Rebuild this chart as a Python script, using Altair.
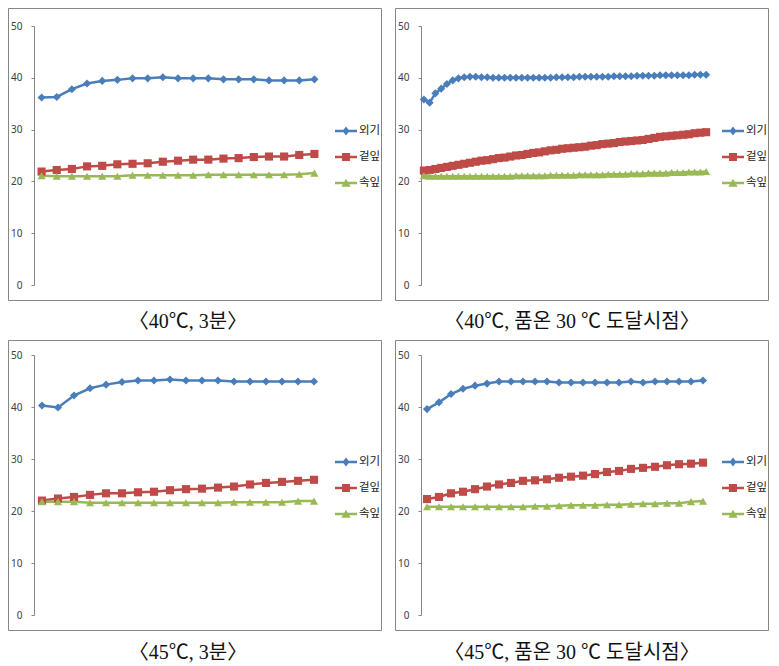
import altair as alt
import pandas as pd

names = ['외기', '겉잎', '속잎']
colors = ['#4A7EBB', '#BE4B48', '#98B954']

captions = ['〈40℃, 3분〉', '〈40℃, 품온 30 ℃ 도달시점〉',
            '〈45℃, 3분〉', '〈45℃, 품온 30 ℃ 도달시점〉']

# Panel 1: 40C, 3 min
p1_out = [36.2, 36.3, 37.8, 38.9, 39.4, 39.6, 39.9, 39.9, 40.1, 39.9, 39.9, 39.9, 39.7, 39.7, 39.7, 39.5, 39.5, 39.5, 39.7]
p1_mid = [21.9, 22.2, 22.4, 22.9, 23.0, 23.3, 23.4, 23.5, 23.8, 24.0, 24.2, 24.2, 24.4, 24.5, 24.7, 24.8, 24.8, 25.1, 25.3]
p1_in = [21.1, 21.0, 21.0, 21.0, 21.0, 21.0, 21.2, 21.2, 21.2, 21.2, 21.2, 21.3, 21.3, 21.3, 21.3, 21.3, 21.3, 21.4, 21.6]

# Panel 2: 40C, until 30C reached
p2_out = [35.8, 35.2, 37.0, 37.9, 38.8, 39.5, 39.9, 40.1, 40.2, 40.2, 40.1, 40.1, 40.0, 40.0, 40.0, 40.0, 40.0,
          40.0, 40.0, 40.0, 40.0, 40.0, 40.0, 40.1, 40.1, 40.1, 40.1, 40.2, 40.2, 40.2, 40.2, 40.2, 40.2, 40.3,
          40.3, 40.3, 40.3, 40.4, 40.4, 40.4, 40.4, 40.5, 40.5, 40.5, 40.5, 40.5, 40.5, 40.6, 40.6, 40.6]
p2_mid = [22.1, 22.2, 22.4, 22.6, 22.8, 23.0, 23.2, 23.4, 23.6, 23.8, 24.0, 24.1, 24.3, 24.5, 24.6, 24.8, 25.0,
          25.1, 25.3, 25.5, 25.6, 25.8, 26.0, 26.1, 26.3, 26.4, 26.5, 26.6, 26.7, 26.9, 27.0, 27.2, 27.3, 27.4,
          27.6, 27.7, 27.8, 27.9, 28.0, 28.2, 28.4, 28.6, 28.7, 28.8, 28.9, 29.0, 29.1, 29.3, 29.4, 29.5]
p2_in = [21.1, 21.0, 21.0, 21.0, 21.0, 21.0, 21.0, 21.0, 21.0, 21.0, 21.0, 21.0, 21.0, 21.0, 21.0, 21.0, 21.1,
         21.1, 21.1, 21.1, 21.1, 21.1, 21.2, 21.2, 21.2, 21.2, 21.2, 21.3, 21.3, 21.3, 21.3, 21.3, 21.4, 21.4,
         21.4, 21.4, 21.5, 21.5, 21.5, 21.6, 21.6, 21.6, 21.6, 21.7, 21.7, 21.7, 21.8, 21.8, 21.8, 21.9]

# Panel 3: 45C, 3 min
p3_out = [40.3, 39.9, 42.2, 43.6, 44.3, 44.8, 45.1, 45.1, 45.3, 45.1, 45.1, 45.1, 44.9, 44.9, 44.9, 44.9, 44.9, 44.9]
p3_mid = [22.0, 22.4, 22.7, 23.1, 23.4, 23.4, 23.6, 23.7, 24.0, 24.2, 24.3, 24.5, 24.7, 25.1, 25.4, 25.6, 25.8, 26.0]
p3_in = [21.8, 21.8, 21.8, 21.6, 21.6, 21.6, 21.6, 21.6, 21.6, 21.6, 21.6, 21.6, 21.7, 21.7, 21.7, 21.7, 21.9, 21.9]

# Panel 4: 45C, until 30C reached
p4_out = [39.6, 40.9, 42.5, 43.5, 44.1, 44.5, 44.9, 44.9, 44.9, 44.9, 44.9, 44.7, 44.7, 44.7, 44.7, 44.7, 44.7,
          44.9, 44.7, 44.9, 44.9, 44.9, 44.9, 45.1]
p4_mid = [22.3, 22.7, 23.4, 23.7, 24.2, 24.7, 25.1, 25.4, 25.8, 25.9, 26.1, 26.4, 26.6, 26.8, 27.1, 27.5, 27.7,
          28.1, 28.3, 28.5, 28.8, 29.0, 29.1, 29.3]
p4_in = [20.8, 20.8, 20.8, 20.8, 20.8, 20.8, 20.8, 20.8, 20.8, 20.9, 20.9, 21.0, 21.1, 21.1, 21.1, 21.2, 21.2,
         21.3, 21.4, 21.4, 21.5, 21.5, 21.8, 21.9]

y_ticks = [0, 10, 20, 30, 40, 50]

# legend symbols: a line segment with the marker on it (unit = sqrt(size)/2)
leg_paths = [
    'M-1,-0.12H1V0.12H-1Z M0,-0.42L0.32,0L0,0.42L-0.32,0Z',
    'M-1,-0.12H1V0.12H-1Z M-0.36,-0.36H0.36V0.36H-0.36Z',
    'M-1,-0.12H1V0.12H-1Z M0,-0.38L0.42,0.34L-0.42,0.34Z',
]

W = 288
FONT_CJK = 'Noto Sans CJK KR'


def make_panel(caption, series, cap_x, top_row):
    H = 259 if top_row else 260
    n = len(series[0])
    rows = []
    for name, vals in zip(names, series):
        for i, v in enumerate(vals):
            rows.append({'i': i + 1, 'v': v, 's': name})
    df = pd.DataFrame(rows)
    base = alt.Chart(df)
    x = alt.X('i:Q', scale=alt.Scale(domain=[0.5, n + 0.5], nice=False, zero=False), axis=None)
    y = alt.Y('v:Q', scale=alt.Scale(domain=[0, 50], nice=False),
              axis=alt.Axis(values=y_ticks, title=None, grid=False, domainColor='#868686',
                            tickColor='#868686', tickSize=3, labelPadding=9, labelFontSize=10,
                            labelFont='Noto Sans', labelColor='#404040'))
    col_scale = alt.Scale(domain=names, range=colors)

    line = base.mark_line(strokeWidth=2.5).encode(
        x=x, y=y, color=alt.Color('s:N', scale=col_scale, legend=None))
    pts = base.mark_point(filled=True, opacity=1, size=66).encode(
        x=x, y=y, color=alt.Color('s:N', scale=col_scale, legend=None),
        shape=alt.Shape('s:N', scale=alt.Scale(domain=names, range=['diamond', 'square', 'triangle-up']),
                        legend=None))
    leg_y = 94 if top_row else 96
    leg = alt.Legend(title=None, orient='none', legendX=301, legendY=leg_y, symbolSize=484,
                     symbolStrokeWidth=0, symbolOpacity=1, labelFont=FONT_CJK, labelFontSize=11.5,
                     labelColor='#222222', labelOffset=2, rowPadding=9, labelLimit=200)
    legend_layer = base.transform_filter('datum.v < 0').mark_point(filled=True, opacity=1).encode(
        x=x, y=y,
        color=alt.Color('s:N', scale=alt.Scale(domain=names, range=colors), legend=leg),
        shape=alt.Shape('s:N', scale=alt.Scale(domain=names, range=leg_paths), legend=leg))

    one = alt.Chart(pd.DataFrame({'k': [0]}))
    if top_row:
        fy, fy2, cy = -17.5, 274.5, 296
    else:
        fy, fy2, cy = -14.5, 275.5, 298
    frame = one.mark_rect(fillOpacity=0, stroke='#868686', strokeWidth=1).encode(
        x=alt.value(-25.5), x2=alt.value(347.5), y=alt.value(fy), y2=alt.value(fy2))
    cap = one.mark_text(font='Liberation Serif, Noto Sans CJK KR', fontSize=20, color='#111111',
                        align='center', baseline='middle').encode(
        x=alt.value(cap_x), y=alt.value(cy), text=alt.value(caption))
    layers = [frame, line, pts, legend_layer, cap]
    if top_row:
        sp = one.mark_rect(opacity=0).encode(
            x=alt.value(-26), x2=alt.value(348), y=alt.value(-18), y2=alt.value(314))
        layers.insert(0, sp)
    return alt.layer(*layers).resolve_scale(shape='independent', color='independent').properties(
        width=W, height=H)


c1 = make_panel(captions[0], [p1_out, p1_mid, p1_in], 154, True)
c2 = make_panel(captions[1], [p2_out, p2_mid, p2_in], 151, True)
c3 = make_panel(captions[2], [p3_out, p3_mid, p3_in], 154, False)
c4 = make_panel(captions[3], [p4_out, p4_mid, p4_in], 151, False)

chart = alt.vconcat(
    alt.hconcat(c1, c2, spacing=13),
    alt.hconcat(c3, c4, spacing=13),
    spacing=0,
).properties(padding=0, background='white').configure_view(stroke=None)

chart.save("out.html", embed_options={"renderer": "svg", "actions": False})
